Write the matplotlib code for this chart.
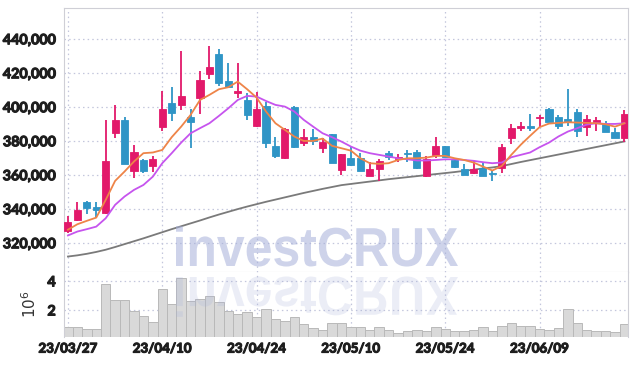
import matplotlib
matplotlib.use("Agg")
import matplotlib.pyplot as plt
import matplotlib.patheffects as pe
import numpy as np
from matplotlib.textpath import TextPath
from matplotlib.patches import PathPatch
from matplotlib.font_manager import FontProperties
from matplotlib.transforms import Affine2D, IdentityTransform

# daily prices (KRW)
opens = [327.5, 333.8, 344.4, 341.4, 337.7, 385.1, 392.6, 362.8, 369.0, 365.7,
         388.6, 402.6, 401.6, 394.1, 405.7, 419.4, 431.4, 415.5, 408.6, 404.3,
         389.0, 400.8, 377.3, 370.4, 400.2, 379.2, 382.4, 376.3, 384.1, 363.0,
         370.2, 370.2, 359.8, 363.6, 373.2, 369.4, 373.0, 373.8, 359.8, 371.8,
         377.1, 369.0, 363.4, 361.4, 364.1, 361.6, 364.1, 382.2, 388.1, 389.0,
         393.4, 399.0, 394.3, 393.0, 397.3, 388.6, 391.4, 390.6, 385.5, 382.2]
closes = [332.4, 339.5, 341.0, 339.6, 368.5, 392.6, 366.7, 373.6, 362.8, 369.6,
          399.0, 396.9, 406.7, 391.6, 416.1, 423.7, 414.1, 412.2, 409.4, 395.5,
          399.0, 379.2, 371.4, 387.1, 376.9, 382.4, 380.2, 379.4, 367.5, 372.4,
          366.3, 362.8, 363.8, 368.3, 370.6, 370.8, 372.6, 364.5, 369.6, 377.1,
          371.0, 365.1, 360.4, 363.4, 359.8, 361.0, 376.5, 387.9, 389.0, 388.1,
          394.5, 391.6, 389.2, 391.4, 386.1, 393.0, 392.6, 385.7, 382.2, 395.9]
highs = [336.3, 344.0, 344.7, 344.2, 392.6, 401.6, 394.5, 377.9, 369.4, 371.6,
         409.4, 411.8, 432.9, 398.8, 421.2, 436.1, 434.1, 425.9, 425.9, 408.6,
         409.0, 403.2, 382.4, 388.1, 400.6, 387.5, 387.5, 381.8, 384.1, 372.8,
         376.5, 373.0, 367.9, 369.4, 374.3, 372.6, 374.9, 374.9, 371.6, 382.4,
         377.1, 369.0, 366.5, 368.5, 367.9, 363.2, 378.3, 390.0, 391.2, 396.1,
         395.7, 399.4, 395.5, 410.6, 398.8, 395.5, 394.5, 392.0, 388.1, 398.4]
lows = [325.9, 333.2, 337.3, 335.7, 337.1, 381.8, 366.5, 358.5, 361.2, 362.0,
        385.9, 392.0, 398.6, 375.9, 396.1, 416.5, 412.6, 411.2, 405.3, 392.6,
        388.3, 375.9, 370.0, 369.4, 375.9, 377.3, 377.9, 373.0, 367.1, 360.0,
        365.7, 362.8, 359.8, 356.7, 368.7, 367.7, 367.7, 363.6, 359.2, 370.4,
        370.8, 364.1, 360.4, 360.6, 359.8, 356.9, 361.6, 378.3, 386.1, 386.1,
        388.6, 391.6, 387.5, 389.0, 382.4, 383.2, 386.1, 385.7, 382.2, 379.8]

# moving averages
ma_short = [328.0, 331.2, 333.2, 335.1, 345.5, 356.7, 362.2, 368.1, 373.0, 373.4,
            374.9, 382.4, 388.6, 395.5, 404.3, 407.3, 410.6, 411.8, 415.1, 410.6,
            405.7, 397.5, 390.6, 386.7, 382.8, 380.2, 380.2, 381.6, 377.3, 375.9,
            374.5, 370.0, 367.1, 366.7, 367.1, 369.0, 370.0, 370.0, 370.4, 371.4,
            371.4, 370.0, 369.0, 367.5, 365.1, 362.8, 365.5, 372.0, 377.9, 383.2,
            388.3, 390.4, 390.8, 391.2, 391.0, 390.8, 390.6, 390.0, 388.6, 390.6]
ma_mid = [324.6, 326.9, 328.3, 329.8, 334.7, 342.6, 347.5, 351.4, 354.3, 359.2,
          367.1, 373.0, 379.2, 384.7, 387.7, 390.6, 394.9, 399.4, 404.3, 406.7,
          406.3, 403.7, 401.4, 400.4, 397.5, 392.6, 388.6, 384.7, 382.4, 379.8,
          376.9, 374.5, 373.0, 372.0, 371.0, 370.0, 369.4, 368.7, 368.7, 369.0,
          369.4, 369.4, 369.0, 368.5, 367.7, 367.1, 367.5, 370.6, 372.0, 373.4,
          376.5, 379.2, 382.8, 385.7, 387.7, 389.8, 390.6, 390.2, 390.2, 390.6]
ma_long = [312.2, 312.9, 313.8, 314.9, 316.2, 317.8, 319.5, 321.2, 322.9, 324.7,
           326.5, 328.3, 330.0, 331.7, 333.4, 335.2, 336.9, 338.5, 340.1, 341.6,
           343.0, 344.4, 345.7, 347.0, 348.3, 349.6, 350.8, 352.0, 353.1, 354.2,
           354.9, 355.6, 356.3, 357.0, 357.7, 358.3, 358.9, 359.5, 360.1, 360.7,
           361.3, 361.9, 362.6, 363.3, 364.0, 364.6, 365.4, 366.6, 367.8, 368.9,
           370.0, 371.1, 372.2, 373.3, 374.4, 375.5, 376.6, 377.7, 378.8, 379.9]

# volume in millions of shares
volume = [0.86, 0.86, 0.72, 0.72, 3.82, 2.72, 2.72, 1.96, 1.61, 1.22,
          3.48, 2.46, 4.23, 2.65, 2.79, 3.01, 2.58, 1.98, 1.77, 1.89,
          1.54, 2.10, 1.41, 1.27, 1.54, 1.06, 0.79, 0.67, 1.13, 1.13,
          0.86, 0.86, 0.67, 0.86, 0.67, 0.44, 0.60, 0.64, 0.60, 0.86,
          0.72, 0.60, 0.60, 0.64, 0.86, 0.60, 0.92, 1.13, 0.92, 0.92,
          0.72, 0.64, 0.79, 2.10, 1.13, 0.64, 0.60, 0.60, 0.53, 1.06]

tick_pos = [0, 10, 20, 30, 40, 50]
tick_labels = ["23/03/27", "23/04/10", "23/04/24", "23/05/10", "23/05/24", "23/06/09"]

font = ["Lato", "DejaVu Sans"]
up_col = "#e2196a"
down_col = "#2f95c6"
grid_col = "#c3c6dc"
spine_col = "#cfcfd6"
txt_col = "#1e1e1e"
lab_kw = dict(family=font, fontsize=10.3, fontweight="bold", color=txt_col,
              path_effects=[pe.withStroke(linewidth=0.8, foreground=txt_col)])
xlab_kw = dict(lab_kw, fontsize=9.6)

x = np.arange(len(opens))
o = np.array(opens) * 1000
c = np.array(closes) * 1000
h = np.array(highs) * 1000
l = np.array(lows) * 1000

fig = plt.figure(figsize=(6.38, 3.66), dpi=100)
ax = fig.add_axes([64 / 638, 1 - 272 / 366, 564 / 638, 264 / 366])
axv = fig.add_axes([64 / 638, 1 - 337 / 366, 564 / 638, 65 / 366], sharex=ax)

# candles
cols = np.where(c >= o, up_col, down_col)
ax.vlines(x, l, h, colors=cols, lw=1.3, zorder=3)
body = np.maximum(np.abs(c - o), 500)
ax.bar(x, body, bottom=np.minimum(o, c), width=0.75, color=cols, edgecolor=cols,
       lw=0.6, zorder=4)

ax.plot(x, np.array(ma_long) * 1000, color="#7a7a7a", lw=1.3, zorder=2)
ax.plot(x, np.array(ma_mid) * 1000, color="#c654ee", lw=1.3, zorder=5)
ax.plot(x, np.array(ma_short) * 1000, color="#ee8448", lw=1.3, zorder=5)

ax.set_xlim(-0.42, 59.38)
ax.set_ylim(303100, 458400)
yt = np.arange(320000, 440001, 20000)
ax.set_yticks(yt)
ax.set_yticklabels([f"{v:,}" for v in yt], **lab_kw)
ax.set_xticks(tick_pos)
ax.tick_params(axis="x", labelbottom=False, length=0)
ax.tick_params(axis="y", length=0, pad=6)
ax.grid(True, color=grid_col, ls=(0, (1.2, 2.5)), lw=0.9)
for s in ax.spines.values():
    s.set_color(spine_col)

# volume
axv.bar(x, volume, width=1.0, color="#d9d9d9", edgecolor="#b9b9b9", lw=0.7, zorder=2)
axv.set_ylim(0.17, 4.65)
axv.set_yticks([2, 4])
axv.set_yticklabels(["2", "4"], **lab_kw)
axv.set_ylabel(r"$10^6$", fontsize=11, color="#333333", labelpad=6)
axv.set_xticks(tick_pos)
axv.set_xticklabels(tick_labels, **xlab_kw)
axv.tick_params(length=0, pad=6)
axv.tick_params(axis="x", pad=4)
axv.grid(True, color=grid_col, ls=(0, (1.2, 2.5)), lw=0.9)
for s in axv.spines.values():
    s.set_color(spine_col)
axv.spines["bottom"].set_visible(False)
axv.spines["top"].set_visible(False)

# watermark and its reflection
fp = FontProperties(family=["Liberation Sans", "DejaVu Sans"], weight="bold")
tp = TextPath((0, 0), "investCRUX", size=45, prop=fp)
bb = tp.get_extents()
sc = 282 / bb.width
H = 366
main_tr = Affine2D().translate(-bb.x0, 0).scale(sc, sc * 1.1).translate(176, H - 266)
refl_tr = Affine2D().translate(-bb.x0, 0).scale(sc, -sc * 1.1).translate(176, H - 277)
fig.add_artist(PathPatch(main_tr.transform_path(tp), transform=IdentityTransform(),
                         facecolor="#a6b0da", edgecolor="none", alpha=0.55, zorder=6))
fig.add_artist(PathPatch(refl_tr.transform_path(tp), transform=IdentityTransform(),
                         facecolor="#a6b0da", edgecolor="none", alpha=0.22, zorder=6))

fig.savefig("out.png", dpi=100)
